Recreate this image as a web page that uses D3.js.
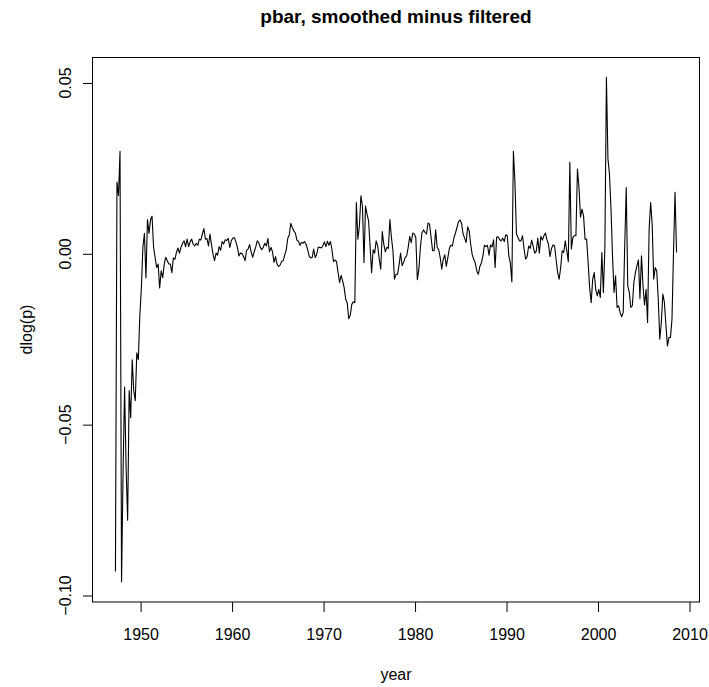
<!DOCTYPE html>
<html><head><meta charset="utf-8">
<script src="https://cdn.jsdelivr.net/npm/d3@7"></script>
<style>body{margin:0;background:#fff} svg{display:block} text{font-family:"Liberation Sans",Arial,Helvetica,sans-serif}</style>
</head><body><svg id="chart" width="709" height="687"></svg>
<script>
const title = "pbar, smoothed minus filtered";
const xLabel = "year";
const yLabel = "dlog(p)";
const startYear = 1947.25;
const step = 1 / 6;
const values = [
  -0.093, 0.021, 0.017, 0.030, -0.096, -0.064,
  -0.039, -0.063, -0.078, -0.040, -0.048, -0.031,
  -0.040, -0.043, -0.029, -0.031, -0.018, -0.010,
  0.002, 0.006, -0.007, 0.010, 0.006, 0.010,
  0.011, 0.002, -0.001, -0.004, -0.003, -0.010,
  -0.005, -0.007, -0.003, -0.001, -0.002, -0.003,
  -0.003, -0.0055, -0.0012, -0.0016, 0.0004, 0.0017,
  0.0002, 0.0019, 0.003, 0.0038, 0.0021, 0.0043,
  0.0021, 0.0035, 0.0043, 0.0028, 0.0023, 0.0031,
  0.0025, 0.0043, 0.004, 0.0058, 0.0074, 0.0043,
  0.0045, 0.0023, 0.0058, 0.0026, -0.0001, -0.002,
  0.0002, -0.0004, 0.0021, 0.001, 0.0036, 0.0029,
  0.0041, 0.0039, 0.0045, 0.0019, 0.0038, 0.0046,
  0.0047, 0.0035, 0.0019, -0.0006, 0.0002, 0.0001,
  -0.0008, -0.002, 0.001, 0.0014, 0.0027, 0.0006,
  -0.001, 0.0006, 0.002, 0.0038, 0.0033, 0.0019,
  0.0012, 0.002, 0.0031, 0.0023, 0.0045, 0.0006,
  0.0019, 0.0006, -0.0025, -0.0008, -0.003, -0.0037,
  -0.0033, -0.0022, -0.002, -0.0004, 0.0011, 0.0045,
  0.0055, 0.0089, 0.0077, 0.0067, 0.0061, 0.004,
  0.0037, 0.0025, 0.0033, 0.0031, 0.0036, 0.0028,
  0.0014, -0.0006, -0.0012, -0.0011, 0.0014, -0.0011,
  -0.0001, 0.0019, 0.0019, 0.0017, 0.0023, 0.0035,
  0.0021, 0.0037, 0.0025, 0.0036, 0.0012, -0.0023,
  -0.0018, -0.0023, -0.0055, -0.0084, -0.0063, -0.0079,
  -0.0099, -0.0133, -0.0143, -0.019, -0.018, -0.0148,
  -0.014, -0.0143, 0.015, 0.0043, 0.0082, 0.017,
  0.014, -0.0025, 0.014, 0.0116, 0.0097, 0.0023,
  -0.0055, 0.0012, 0.0002, 0.0038, 0.0023, -0.0016,
  -0.0045, 0.0065, 0.0028, 0.0006, 0.0019, 0.0016,
  0.010, 0.0048, 0.0009, -0.0074, -0.006, -0.006,
  -0.0033, 0.0002, -0.0035, -0.0025, -0.0011, -0.0006,
  0.0019, 0.0051, 0.0033, 0.0061, 0.0058, 0.0048,
  -0.0076, -0.0045, 0.0019, 0.0061, 0.007, 0.0063,
  0.0058, 0.009, 0.0087, 0.0048, 0.0009, 0.0009,
  0.007, 0.0019, 0.0012, -0.0011, -0.0045, -0.0016,
  -0.0003, -0.0037, -0.0011, 0.0016, 0.0025, 0.0023,
  0.0047, 0.0061, 0.0077, 0.0094, 0.0099, 0.0089,
  0.0058, 0.0046, 0.0033, 0.0079, 0.0067, 0.0028,
  -0.0003, -0.0016, -0.0027, -0.005, -0.006, -0.0037,
  -0.0027, -0.0006, 0.0025, 0.0021, 0.0025, -0.0004,
  0.0026, 0.002, 0.0041, -0.004, 0.0049, 0.005,
  0.0041, 0.0038, 0.0046, 0.0036, 0.0056, 0.0053,
  -0.0006, -0.0027, -0.0082, 0.030, 0.021, 0.0058,
  0.0048, 0.0038, 0.0038, 0.0053, 0.0014, -0.0016,
  -0.0008, 0.0023, 0.0016, 0.004, 0.0021, 0.0002,
  0.0008, 0.0046, 0.0002, 0.0051, 0.004, 0.0053,
  0.0061, 0.0041, 0.0028, -0.0008, 0.0016, 0.0026,
  0.0023, -0.0016, -0.0055, -0.0074, -0.004, 0.0009,
  0.0004, 0.0038, 0.0009, -0.0023, 0.0268, 0.0014,
  0.0048, 0.0053, 0.0053, 0.0248, 0.0194, 0.0107,
  0.0131, 0.0111, 0.0043, 0.0043, -0.0025, -0.0099,
  -0.0143, -0.0074, -0.0055, -0.0104, -0.0123, -0.0104,
  -0.0128, 0.0004, -0.0113, 0.0019, 0.0517, 0.0278,
  0.0234, 0.0131, -0.0006, -0.0113, -0.0064, -0.0157,
  -0.0152, -0.0172, -0.0184, -0.0172, 0.0023, 0.0194,
  -0.0094, -0.0113, -0.0157, -0.0152, -0.0084, -0.0055,
  -0.0035, -0.0018, -0.0131, -0.0006, -0.0094, -0.015,
  -0.0104, -0.0201, 0.0072, 0.015, 0.0087, -0.0074,
  -0.004, -0.005, -0.0133, -0.025, -0.0201, -0.0118,
  -0.0141, -0.0206, -0.027, -0.0245, -0.0245, -0.0192,
  0.0004, 0.018, 0.0004
];
const xTicks = [1950, 1960, 1970, 1980, 1990, 2000, 2010];
const yTicks = [-0.10, -0.05, 0.00, 0.05];
const yTickLabels = ["\u22120.10", "\u22120.05", "0.00", "0.05"];

const W = 709, H = 687;
const margin = {top: 57, right: 10, bottom: 85, left: 93};
const svg = d3.select("#chart");

const years = values.map((v, i) => startYear + i * step);
const pad = (lo, hi) => { const r = hi - lo; return [lo - 0.04 * r, hi + 0.04 * r]; };
const x = d3.scaleLinear().domain(pad(d3.min(years), d3.max(years))).range([margin.left, W - margin.right]);
const y = d3.scaleLinear().domain(pad(d3.min(values), d3.max(values))).range([H - margin.bottom, margin.top]);

// data line
svg.append("path")
  .datum(values)
  .attr("fill", "none")
  .attr("stroke", "#000")
  .attr("stroke-width", 1.1)
  .attr("stroke-linejoin", "round")
  .attr("d", d3.line().x((d, i) => x(years[i])).y(d => y(d)));

// box
svg.append("rect")
  .attr("x", margin.left - 0.5).attr("y", margin.top + 0.5)
  .attr("width", W - margin.right - margin.left + 1)
  .attr("height", H - margin.bottom - margin.top - 0.5)
  .attr("fill", "none").attr("stroke", "#000").attr("stroke-width", 1);

// x axis
const xAxis = svg.append("g")
  .attr("transform", `translate(0,${H - margin.bottom})`)
  .call(d3.axisBottom(x).tickValues(xTicks).tickFormat(d3.format("d")).tickSize(10).tickSizeOuter(0).tickPadding(17));
xAxis.select(".domain").remove();
xAxis.selectAll("text").attr("font-size", 16).attr("fill", "#000").attr("font-family", '"Liberation Sans",Arial,sans-serif');
xAxis.selectAll("line").attr("stroke", "#000");

// y axis
const yAxis = svg.append("g")
  .attr("transform", `translate(${margin.left},0)`)
  .call(d3.axisLeft(y).tickValues(yTicks).tickFormat("").tickSize(10).tickSizeOuter(0));
yAxis.select(".domain").remove();
yAxis.selectAll("line").attr("stroke", "#000");
svg.append("g").selectAll("text").data(yTicks).join("text")
  .attr("transform", d => `translate(71,${y(d)}) rotate(-90)`)
  .attr("text-anchor", "middle").attr("font-size", 16).attr("fill", "#000")
  .text((d, i) => yTickLabels[i]);

// titles
svg.append("text").attr("x", (margin.left + W - margin.right) / 2).attr("y", 23)
  .attr("text-anchor", "middle").attr("font-size", 19).attr("font-weight", "bold").text(title);
svg.append("text").attr("x", (margin.left + W - margin.right) / 2).attr("y", 680)
  .attr("text-anchor", "middle").attr("font-size", 16).text(xLabel);
svg.append("text").attr("transform", `translate(32,${(margin.top + H - margin.bottom) / 2}) rotate(-90)`)
  .attr("text-anchor", "middle").attr("font-size", 16).text(yLabel);
</script></body></html>
